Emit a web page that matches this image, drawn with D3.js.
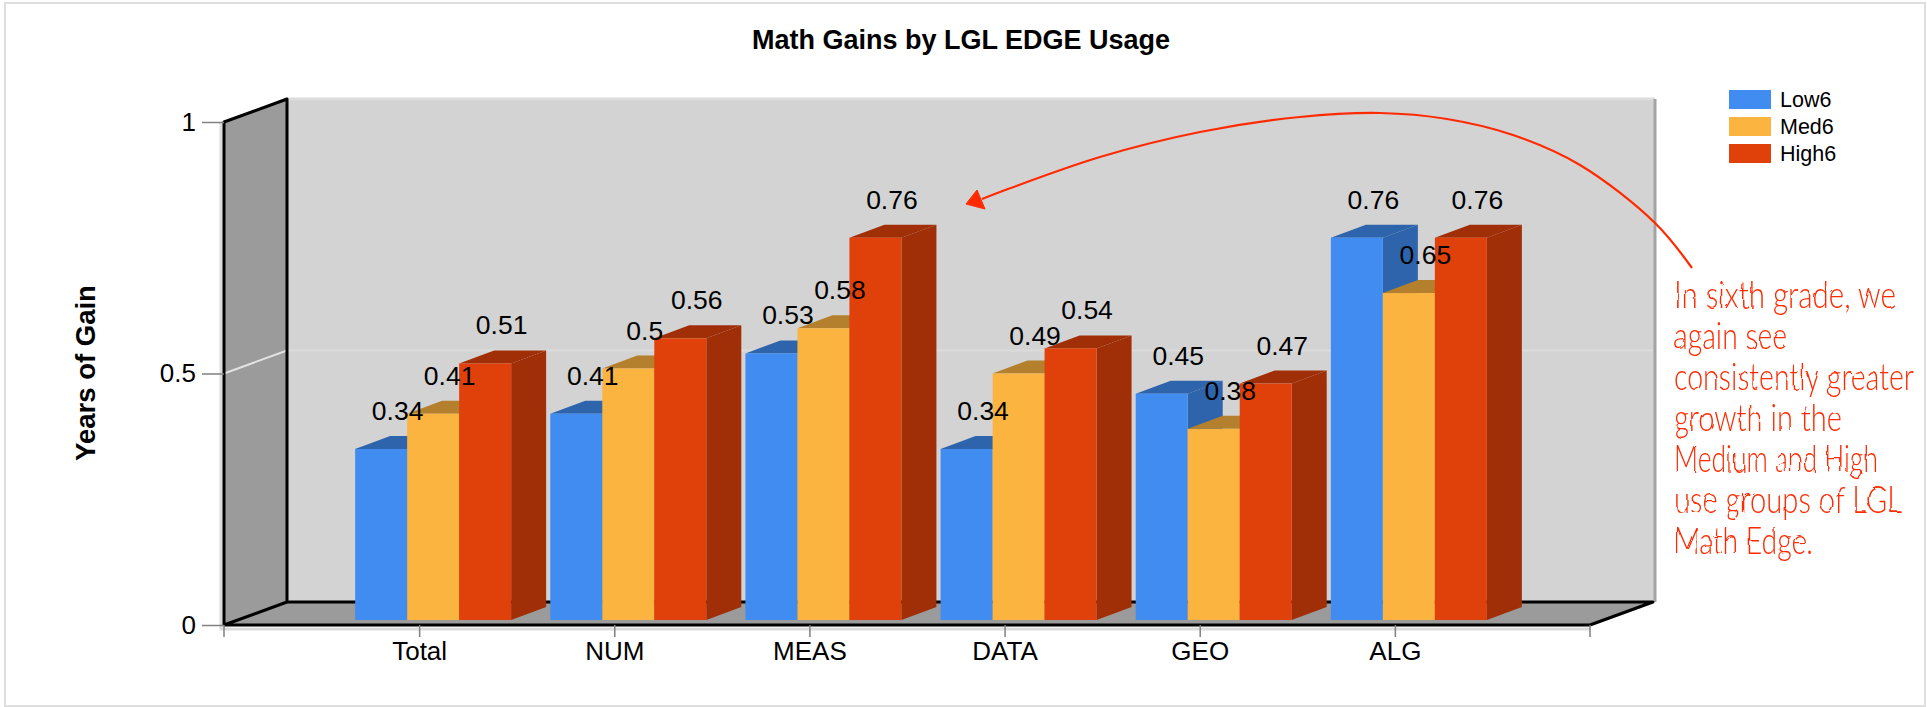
<!DOCTYPE html>
<html>
<head>
<meta charset="utf-8">
<script src="https://cdn.jsdelivr.net/npm/d3@7"></script>
<style>
    html, body { margin: 0; padding: 0; background: #fff; }
    svg { display: block; }
    text { font-family: "Liberation Sans", Arial, sans-serif; fill: #000; }
</style>
</head>
<body>
<svg id="chart" width="1927" height="707"></svg>
<script>
const categories = ['Total', 'NUM', 'MEAS', 'DATA', 'GEO', 'ALG'];
const seriesNames = ['Low6', 'Med6', 'High6'];
const low6 = [0.34, 0.41, 0.53, 0.34, 0.45, 0.76];
const med6 = [0.41, 0.5, 0.58, 0.49, 0.38, 0.65];
const high6 = [0.51, 0.56, 0.76, 0.54, 0.47, 0.76];
const yTicks = [0, 0.5, 1];
const seriesColors = ['#418cf0', '#fcb441', '#e0400a'];
const noteLines = [
    'In sixth grade, we',
    'again see',
    'consistently greater',
    'growth in the',
    'Medium and High',
    'use groups of LGL',
    'Math Edge.',
];
const noteWidths = [222, 113, 240, 168, 204, 228, 139];
// hand drawn arrow
const arrowPath = [
    [1692, 268], [1655, 223], [1580, 165], [1513, 135], [1447, 119], [1380, 113],
    [1300, 117], [1200, 132], [1100, 157], [1000, 192], [982, 199],
];
const arrowHead = [[966, 204], [977, 190], [985, 209]];

const values = [low6, med6, high6];
const svg = d3.select('#chart');

// frame geometry
const plotLeft = 224, plotRight = 1590, plotTop = 122, plotBottom = 625;
const depthX = 63, depthY = 23;
const barDepthX = 35, barDepthY = 13, barLift = 5;

const xScale = d3.scalePoint().domain(categories).range([plotLeft, plotRight]).padding(1);
const yScale = d3.scaleLinear().domain([0, 1]).range([plotBottom, plotTop]);
const barScale = d3.scaleBand().domain(seriesNames).range([-64, 92]);

// outer border
svg.append('rect')
    .attr('x', 5).attr('y', 3).attr('width', 1920).attr('height', 703)
    .attr('fill', 'none').attr('stroke', '#dedede').attr('stroke-width', 2);

const poly = (pts) => pts.map((p) => p.join(',')).join(' ');

// walls
const frame = svg.append('g');
frame.append('rect')
    .attr('x', plotLeft + depthX).attr('y', plotTop - depthY)
    .attr('width', plotRight + 2 - plotLeft).attr('height', plotBottom - plotTop)
    .attr('fill', '#d3d3d3');
frame.append('line')
    .attr('x1', plotLeft + depthX).attr('x2', plotRight + depthX + 2)
    .attr('y1', plotTop - depthY).attr('y2', plotTop - depthY)
    .attr('stroke', '#dcdcdc').attr('stroke-width', 3);
frame.append('line')
    .attr('x1', plotRight + depthX + 2).attr('x2', plotRight + depthX + 2)
    .attr('y1', plotTop - depthY).attr('y2', plotBottom - depthY)
    .attr('stroke', '#a3a3a3').attr('stroke-width', 3);
frame.append('polygon')
    .attr('points', poly([[plotLeft, plotBottom], [plotLeft, plotTop], [plotLeft + depthX, plotTop - depthY], [plotLeft + depthX, plotBottom - depthY]]))
    .attr('fill', '#9b9b9b');
frame.append('polygon')
    .attr('points', poly([[plotLeft, plotBottom], [plotLeft + depthX, plotBottom - depthY], [plotRight + depthX, plotBottom - depthY], [plotRight, plotBottom]]))
    .attr('fill', '#9b9b9b');

// soft edge round the left wall and the floor
frame.append('path')
    .attr('d', `M${plotLeft - 3},${plotTop}V${plotBottom + 4}H${plotRight}`)
    .attr('fill', 'none').attr('stroke', '#dcdcdc').attr('stroke-width', 3);

// gridlines
yTicks.filter((d) => d > 0 && d < 1).forEach((d) => {
    frame.append('line')
        .attr('x1', plotLeft + depthX).attr('x2', plotRight + depthX)
        .attr('y1', yScale(d) - depthY).attr('y2', yScale(d) - depthY)
        .attr('stroke', '#dcdcdc').attr('stroke-width', 2);
    frame.append('line')
        .attr('x1', plotLeft).attr('x2', plotLeft + depthX)
        .attr('y1', yScale(d)).attr('y2', yScale(d) - depthY)
        .attr('stroke', '#e2e2e2').attr('stroke-width', 2);
});

// black frame lines
frame.append('path')
    .attr('d', `M${plotLeft},${plotBottom}V${plotTop}L${plotLeft + depthX},${plotTop - depthY}V${plotBottom - depthY}L${plotLeft},${plotBottom}`
        + `M${plotLeft + depthX},${plotBottom - depthY}H${plotRight + depthX}L${plotRight},${plotBottom}H${plotLeft}`)
    .attr('fill', 'none').attr('stroke', '#000').attr('stroke-width', 3).attr('stroke-linejoin', 'round');

// axes
const yAxis = d3.axisLeft(yScale).tickValues(yTicks).tickFormat(d3.format('~g')).tickSize(22).tickPadding(6);
const yAxisG = svg.append('g').attr('transform', `translate(${plotLeft},0)`).call(yAxis);
yAxisG.select('.domain').remove();
yAxisG.selectAll('line').attr('stroke', '#808080').attr('stroke-width', 1.5);
yAxisG.selectAll('text').attr('font-size', 26).style('font-family', '"Liberation Sans", Arial, sans-serif');

const xAxis = d3.axisBottom(xScale).tickSize(12).tickPadding(5);
const xAxisG = svg.append('g').attr('transform', `translate(0,${plotBottom})`).call(xAxis);
xAxisG.select('.domain').remove();
xAxisG.selectAll('line').attr('stroke', '#808080').attr('stroke-width', 1.5);
xAxisG.selectAll('text').attr('font-size', 26).style('font-family', '"Liberation Sans", Arial, sans-serif');
[plotLeft, plotRight].forEach((x) => {
    svg.append('line')
        .attr('x1', x).attr('x2', x).attr('y1', plotBottom).attr('y2', plotBottom + 12)
        .attr('stroke', '#808080').attr('stroke-width', 1.5);
});

// bars, left to right so that each one covers the side of the one before
const bars = categories.flatMap((cat, i) =>
    seriesNames.map((name, s) => ({ cat, name, s, v: values[s][i] })),
);
const barG = svg.append('g').selectAll('g').data(bars).join('g')
    .attr('transform', (d) => `translate(${xScale(d.cat) + barScale(d.name)},0)`);
const w = barScale.bandwidth();
const topY = (d) => yScale(d.v) - barLift;
const baseY = plotBottom - barLift;

barG.append('polygon')
    .attr('points', (d) => poly([[0, topY(d)], [barDepthX, topY(d) - barDepthY], [w + barDepthX, topY(d) - barDepthY], [w, topY(d)]]))
    .attr('fill', (d) => d3.color(seriesColors[d.s]).darker(0.95));
barG.append('polygon')
    .attr('points', (d) => poly([[w, topY(d)], [w + barDepthX, topY(d) - barDepthY], [w + barDepthX, baseY - barDepthY], [w, baseY]]))
    .attr('fill', (d) => d3.color(seriesColors[d.s]).darker(0.95));
barG.append('rect')
    .attr('x', 0).attr('y', topY).attr('width', w).attr('height', (d) => baseY - topY(d))
    .attr('fill', (d) => seriesColors[d.s]);

// value labels go on top of all the bars
svg.append('g').selectAll('text').data(bars).join('text')
    .attr('x', (d) => xScale(d.cat) + barScale(d.name) + (w + barDepthX) / 2 - 1)
    .attr('y', (d) => topY(d) - barDepthY - 16)
    .attr('text-anchor', 'middle')
    .attr('font-size', 26.5)
    .text((d) => d.v);

// titles
svg.append('text')
    .attr('x', 961).attr('y', 49)
    .attr('text-anchor', 'middle').attr('font-size', 27).attr('font-weight', 'bold')
    .text('Math Gains by LGL EDGE Usage');
svg.append('text')
    .attr('transform', 'translate(95,373) rotate(-90)')
    .attr('text-anchor', 'middle').attr('font-size', 27.5).attr('font-weight', 'bold')
    .text('Years of Gain');

// legend
const legend = svg.append('g').selectAll('g').data(seriesNames).join('g')
    .attr('transform', (d, i) => `translate(1729,${90 + i * 27})`);
legend.append('rect')
    .attr('width', 42).attr('height', 19)
    .attr('fill', (d, i) => seriesColors[i]);
legend.append('text')
    .attr('x', 51).attr('y', 17)
    .attr('font-size', 21.5)
    .text((d) => d);

// hand written note
const defs = svg.append('defs');
const rough = defs.append('filter').attr('id', 'rough')
    .attr('x', '-5%').attr('y', '-5%').attr('width', '110%').attr('height', '110%');
rough.append('feTurbulence').attr('type', 'fractalNoise').attr('baseFrequency', 0.06).attr('numOctaves', 2).attr('seed', 4);
rough.append('feDisplacementMap').attr('in', 'SourceGraphic').attr('scale', 3);

svg.append('g').attr('filter', 'url(#rough)')
    .selectAll('text').data(noteLines).join('text')
    .attr('font-size', 38)
    .style('font-family', 'Lato, sans-serif')
    .style('font-weight', 300)
    .style('fill', '#ff2a00')
    .text((d) => d)
    .attr('transform', function (d, i) {
        // stretch each line to the width it has in the picture
        const sx = noteWidths[i] / this.getComputedTextLength();
        return `translate(1674,${308 + i * 41}) scale(${sx},1)`;
    });

svg.append('path')
    .attr('d', d3.line().curve(d3.curveCatmullRom)(arrowPath))
    .attr('fill', 'none').attr('stroke', '#ff2a00').attr('stroke-width', 2.2);
svg.append('polygon')
    .attr('points', poly(arrowHead))
    .attr('fill', '#ff2a00').attr('stroke', '#ff2a00');
</script>
</body>
</html>
